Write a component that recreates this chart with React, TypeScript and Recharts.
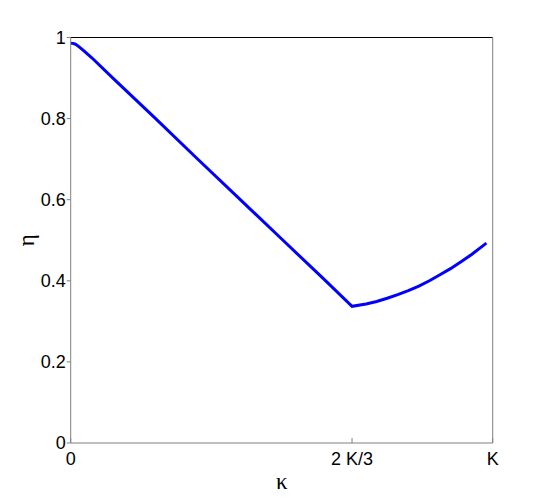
import { LineChart, Line, XAxis, YAxis, Label, ReferenceLine } from 'recharts'

// kappa as a fraction of K, eta
const kappa = [
  0, 0.005, 0.01, 0.015, 0.02, 0.03, 0.04, 0.05, 0.1, 0.2, 0.3, 0.4, 0.5, 0.6,
  0.6667, 0.7, 0.725, 0.75, 0.775, 0.8, 0.825, 0.85, 0.875, 0.9, 0.925, 0.95,
  0.975, 0.985,
]
const eta = [
  0.986, 0.9855, 0.984, 0.981, 0.977, 0.968, 0.959, 0.95, 0.9, 0.801, 0.701,
  0.602, 0.503, 0.404, 0.337, 0.343, 0.349, 0.357, 0.366, 0.376, 0.387, 0.4,
  0.415, 0.43, 0.447, 0.465, 0.485, 0.493,
]

const xTicks = [0, 2 / 3, 1]
const xTickLabels = ['0', '2 K/3', 'K']
const yTicks = [0, 0.2, 0.4, 0.6, 0.8, 1]
const yTickLabels = ['0', '0.2', '0.4', '0.6', '0.8', '1']

const data = kappa.map((k, i) => ({ k, eta: eta[i] }))

const FONT = '"Liberation Sans", Arial, Helvetica, sans-serif'
const SERIF = '"Liberation Serif", "Times New Roman", serif'
const AXIS = '#808080'

function BottomTick({ x, y, index }: any) {
  return (
    <g>
      <line x1={x} y1={y} x2={x} y2={y - 5} stroke={AXIS} />
      <text x={x} y={y + 21.5} textAnchor="middle" fontSize={18} fontFamily={FONT} fill="#000">
        {xTickLabels[index]}
      </text>
    </g>
  )
}

function RightTick({ x, y }: any) {
  return <line x1={x} y1={y} x2={x - 4} y2={y} stroke={AXIS} />
}

export default function App() {
  return (
    <div style={{ position: 'absolute', left: 0, top: 0, background: '#fff' }}>
      <LineChart
        width={545}
        height={498}
        data={data}
        margin={{ top: 37.5, right: 0, left: 0, bottom: 0 }}
      >
        <XAxis
          dataKey="k"
          type="number"
          domain={[0, 1]}
          ticks={xTicks}
          height={55}
          tickSize={0}
          tickMargin={0}
          tickLine={false}
          axisLine={{ stroke: AXIS }}
          tick={<BottomTick />}
          interval={0}
        >
          <Label
            content={({ viewBox }: any) => (
              <text
                x={viewBox.x + viewBox.width / 2}
                y={viewBox.y + 46}
                textAnchor="middle"
                fontSize={23}
                fontFamily={SERIF}
                fill="#000"
              >
                κ
              </text>
            )}
          />
        </XAxis>
        <YAxis
          type="number"
          domain={[0, 1]}
          ticks={yTicks}
          width={70.7}
          tickSize={4}
          tickMargin={1}
          interval={0}
          tickLine={{ stroke: AXIS }}
          axisLine={{ stroke: AXIS }}
          tick={{ fontSize: 18, fontFamily: FONT, fill: '#000' }}
          tickFormatter={(v: number) => yTickLabels[yTicks.indexOf(v)] ?? String(v)}
        >
          <Label
            content={({ viewBox }: any) => {
              const cx = 26
              const cy = viewBox.y + viewBox.height / 2
              return (
                <text
                  x={cx}
                  y={cy}
                  textAnchor="middle"
                  dominantBaseline="central"
                  transform={`rotate(-90 ${cx} ${cy})`}
                  fontSize={23}
                  fontFamily={SERIF}
                  fill="#000"
                >
                  η
                </text>
              )
            }}
          />
        </YAxis>
        <YAxis
          yAxisId="r"
          orientation="right"
          type="number"
          domain={[0, 1]}
          ticks={yTicks}
          width={52.3}
          tickSize={0}
          tickMargin={0}
          tickLine={false}
          interval={0}
          axisLine={{ stroke: AXIS }}
          tick={<RightTick />}
        />
        <ReferenceLine y={1} stroke="#000" strokeWidth={1} />
        <Line
          type="linear"
          dataKey="eta"
          stroke="#0000ff"
          strokeWidth={3}
          dot={false}
          isAnimationActive={false}
        />
      </LineChart>
    </div>
  )
}
